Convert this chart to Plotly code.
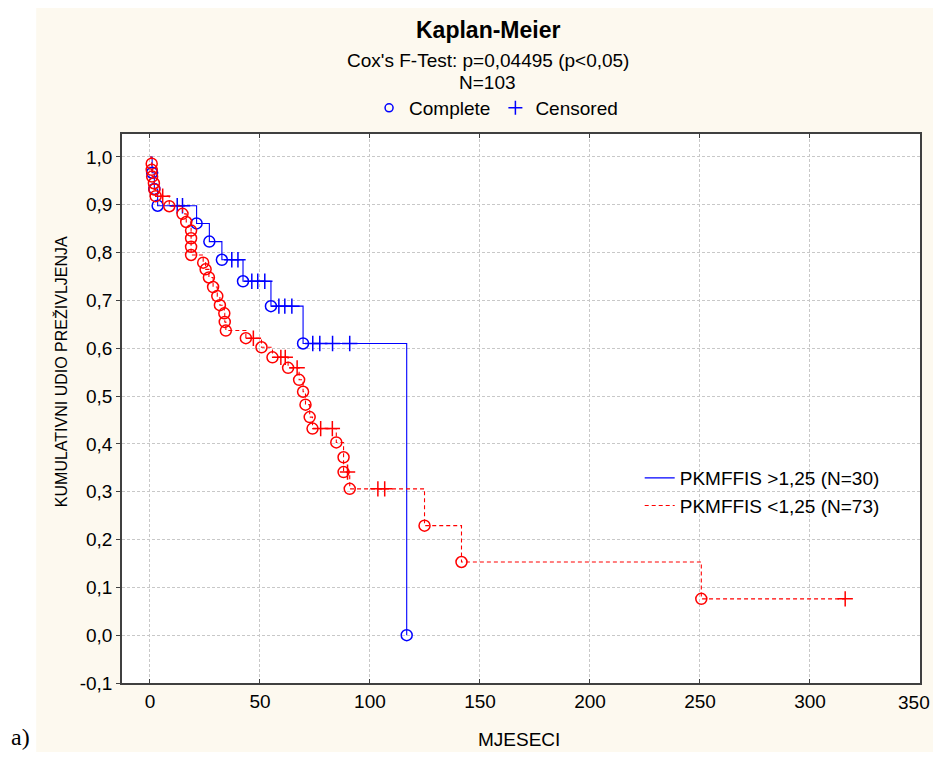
import plotly.graph_objects as go

# ---------------- data ----------------
blue_name = "PKMFFIS >1,25 (N=30)"
blue_death_t = [1.0, 2.0, 3.5, 21.2, 27.0, 32.7, 42.3, 55.0, 69.6, 116.7]
blue_death_s = [0.967, 0.933, 0.898, 0.861, 0.823, 0.785, 0.740, 0.688, 0.610, 0.0]
blue_cens_t = [12.4, 14.8, 37.2, 40.0, 46.3, 49.0, 52.2, 58.6, 61.3, 64.5, 74.0, 77.2, 83.0, 90.8]
blue_cens_s = [0.898, 0.898, 0.785, 0.785, 0.740, 0.740, 0.740, 0.688, 0.688, 0.688,
               0.610, 0.610, 0.610, 0.610]

red_name = "PKMFFIS <1,25 (N=73)"
red_death_t = [0.8, 0.8, 1.0, 1.8, 2.0, 2.6, 8.8, 14.8, 16.5, 18.7, 18.7, 18.7, 18.7,
               24.2, 25.3, 26.8, 28.7, 30.6, 31.8, 33.8, 34.0, 34.5, 43.6, 50.7, 55.7,
               62.8, 67.8, 69.6, 70.7, 72.6, 73.9, 84.7, 88.0, 88.0, 90.8, 124.8, 141.6, 250.6]
red_death_s = [0.986, 0.973, 0.959, 0.945, 0.932, 0.918, 0.897, 0.881, 0.864, 0.846, 0.830,
               0.812, 0.795, 0.779, 0.765, 0.748, 0.728, 0.709, 0.690, 0.673, 0.655, 0.637,
               0.621, 0.602, 0.581, 0.559, 0.534, 0.509, 0.482, 0.456, 0.432, 0.403, 0.372,
               0.341, 0.306, 0.229, 0.153, 0.076]
red_cens_t = [5.8, 47.0, 59.5, 61.5, 66.9, 77.6, 82.9, 89.8, 103.6, 106.7, 316.0]
red_cens_s = [0.918, 0.621, 0.581, 0.581, 0.559, 0.432, 0.432, 0.341, 0.306, 0.306, 0.076]

x_ticks = [0, 50, 100, 150, 200, 250, 300, 350]
x_tick_text = ["0", "50", "100", "150", "200", "250", "300", "350"]
y_ticks = [-0.1, 0.0, 0.1, 0.2, 0.3, 0.4, 0.5, 0.6, 0.7, 0.8, 0.9, 1.0]
y_tick_text = ["-0,1", "0,0", "0,1", "0,2", "0,3", "0,4", "0,5", "0,6", "0,7", "0,8", "0,9", "1,0"]

title = "Kaplan-Meier"
subtitle1 = "Cox's F-Test: p=0,04495 (p<0,05)"
subtitle2 = "N=103"
x_title = "MJESECI"
y_title = "KUMULATIVNI UDIO PREŽIVLJENJA"
panel_label = "a)"

BLUE = "#0000FF"
RED = "#FF0000"
FONT = "Arial, Liberation Sans, sans-serif"
CREAM = "#FDF9EF"
FS = 19


def step_path(dt, ds, ct, cs):
    ev = sorted(list(zip(dt, ds)) + list(zip(ct, cs)), key=lambda p: (p[0], -p[1]))
    xs = [0.0] + [p[0] for p in ev]
    ys = [1.0] + [p[1] for p in ev]
    return xs, ys


fig = go.Figure()

for name, col, dash, dt, ds, ct, cs in [
    (blue_name, BLUE, "solid", blue_death_t, blue_death_s, blue_cens_t, blue_cens_s),
    (red_name, RED, "4px,3px", red_death_t, red_death_s, red_cens_t, red_cens_s),
]:
    xs, ys = step_path(dt, ds, ct, cs)
    fig.add_trace(go.Scatter(x=xs, y=ys, mode="lines", line_shape="hv",
                             line=dict(color=col, width=1.1, dash=dash),
                             name=name, legend="legend2", showlegend=True))
    fig.add_trace(go.Scatter(x=dt, y=ds, mode="markers",
                             marker=dict(symbol="circle-open", size=11, color=col,
                                         line=dict(width=1.5, color=col)),
                             showlegend=False, hoverinfo="x+y"))
    fig.add_trace(go.Scatter(x=ct, y=cs, mode="markers",
                             marker=dict(symbol="cross-thin-open", size=11, color=col,
                                         line=dict(width=1.5, color=col)),
                             showlegend=False, hoverinfo="x+y"))

# top legend entries (marker types)
fig.add_trace(go.Scatter(x=[None], y=[None], mode="markers", name="Complete",
                         marker=dict(symbol="circle-open", size=8, color=BLUE,
                                     line=dict(width=1.5, color=BLUE)),
                         legend="legend"))
fig.add_trace(go.Scatter(x=[None], y=[None], mode="markers", name="Censored",
                         marker=dict(symbol="cross-thin-open", size=10, color=BLUE,
                                     line=dict(width=1.5, color=BLUE)),
                         legend="legend"))

# page geometry (browser body has an 8px margin on every side; avoid overflow)
OFF = 8
W, H = 941 - 2 * OFF, 760 - 2 * OFF
P_L, P_T, P_R, P_B = 122, 134, 922, 683      # plot area in page pixels
PW, PH = P_R - P_L, P_B - P_T
PAGE_RIGHT = OFF + W
PAGE_BOTTOM = OFF + H


def px(xp):
    return (xp - P_L) / PW


def py(yp):
    return (P_B - yp) / PH


annotations = [
    dict(text="<b>" + title + "</b>", x=px(488.5), y=py(30), font=dict(size=23)),
    dict(text=subtitle1, x=px(488.5), y=py(61), font=dict(size=FS)),
    dict(text=subtitle2, x=px(488.5), y=py(83), font=dict(size=FS)),
    dict(text=panel_label, x=px(9), y=py(PAGE_BOTTOM), xanchor="left", yanchor="bottom",
         font=dict(size=24, family="Liberation Serif, Times New Roman, serif")),
    dict(text=y_title, x=px(61), y=py(372), textangle=-90, font=dict(size=16)),
    dict(text=x_title, x=px(520), y=py(739), font=dict(size=FS)),
    # last x tick label, nudged so it stays inside the page
    dict(text=x_tick_text[-1], x=x_ticks[-1], xref="x", xshift=-6, y=py(703),
         font=dict(size=FS)),
]
for a in annotations:
    a.setdefault("xref", "paper")
    a.update(yref="paper", showarrow=False)
    a.setdefault("xanchor", "center")
    a.setdefault("yanchor", "middle")
    a["font"].setdefault("family", FONT)
    a["font"].setdefault("color", "black")

fig.update_layout(
    width=W, height=H, autosize=False,
    margin=dict(l=P_L - OFF, r=PAGE_RIGHT - P_R, t=P_T - OFF, b=PAGE_BOTTOM - P_B, pad=0),
    paper_bgcolor=CREAM, plot_bgcolor="white",
    font=dict(family=FONT, size=FS, color="black"),
    annotations=annotations,
    shapes=[dict(type="rect", xref="paper", yref="paper", x0=px(0), x1=px(36),
                 y0=py(H + 20), y1=py(-20), fillcolor="white", line=dict(width=0),
                 layer="below")],
    legend=dict(orientation="h", x=px(497), y=py(108), xanchor="center", yanchor="middle",
                bgcolor="rgba(0,0,0,0)", font=dict(size=FS), itemwidth=30),
    legend2=dict(x=px(641), y=py(459), xanchor="left", yanchor="top",
                 bgcolor="rgba(0,0,0,0)", font=dict(size=FS), tracegroupgap=0,
                 itemwidth=30),
    xaxis=dict(range=[-12.7, 350], tickvals=x_ticks,
               ticktext=x_tick_text[:-1] + [""],
               showline=True, linecolor="#404040", linewidth=1.5, mirror="ticks",
               ticks="inside", ticklen=4, tickcolor="#404040",
               showgrid=True, gridcolor="#C8C8C8", griddash="3px,2px", gridwidth=1,
               zeroline=False, tickfont=dict(size=FS)),
    yaxis=dict(range=[-0.1, 1.048], tickvals=y_ticks, ticktext=y_tick_text,
               showline=True, linecolor="#404040", linewidth=1.5, mirror=True,
               ticks="outside", ticklen=4, tickcolor="#404040",
               showgrid=True, gridcolor="#C8C8C8", griddash="3px,2px", gridwidth=1,
               zeroline=False, tickfont=dict(size=FS)),
)

fig.write_html("out.html")
